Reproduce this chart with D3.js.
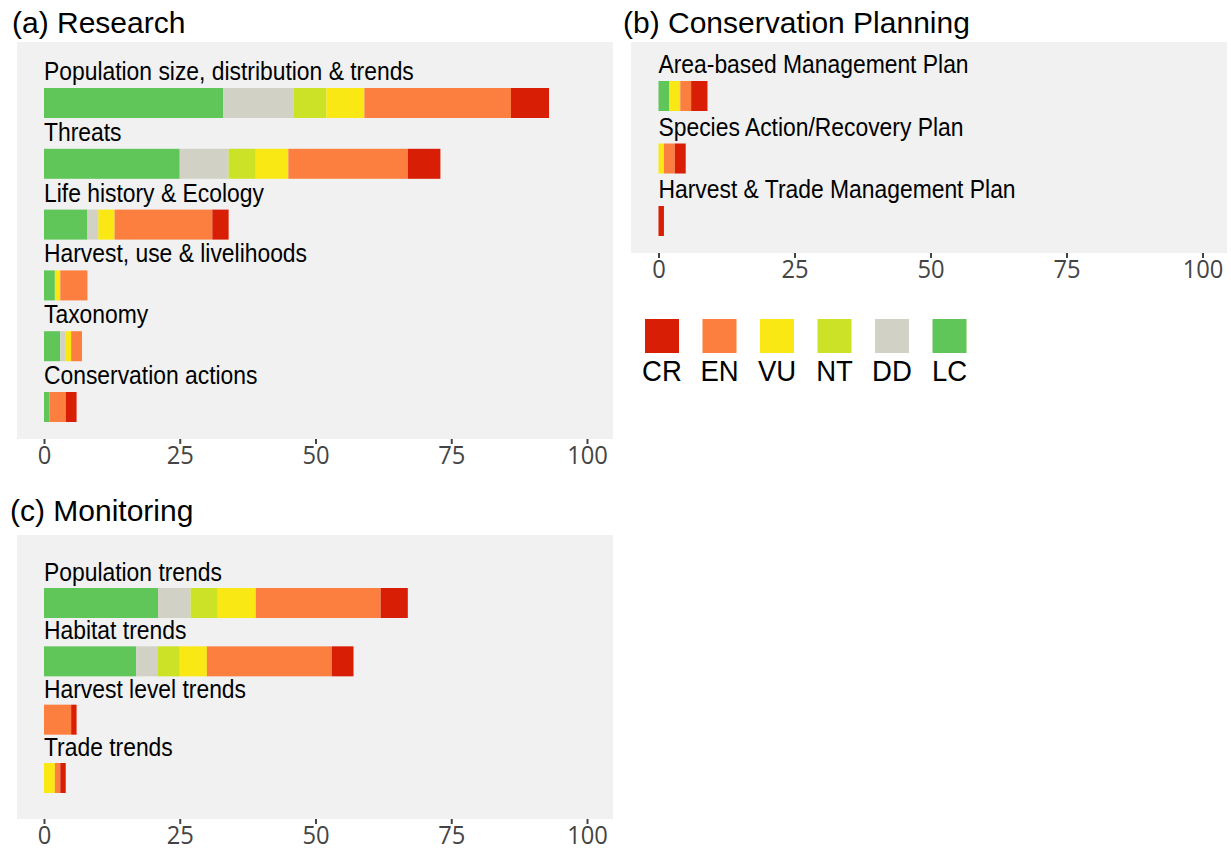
<!DOCTYPE html>
<html>
<head>
<meta charset="utf-8">
<script src="https://cdn.jsdelivr.net/npm/d3@7/dist/d3.min.js"></script>
<style>
  html, body { margin: 0; padding: 0; background: #ffffff; }
  svg { display: block; }
</style>
</head>
<body>
<svg id="chart" width="1231" height="852"></svg>
<script>
// ---------------- DATA ----------------
const statusKeys = ["LC", "DD", "NT", "VU", "EN", "CR"];
const legendKeys = ["CR", "EN", "VU", "NT", "DD", "LC"];
const statusColors = ["#60C659", "#D1D1C6", "#CCE226", "#F9E814", "#FC7F3F", "#D81E05"];
const tickValues = [0, 25, 50, 75, 100];

// (a) Research
const researchCategories = ["Population size, distribution & trends", "Threats", "Life history & Ecology",
                            "Harvest, use & livelihoods", "Taxonomy", "Conservation actions"];
const researchLC = [33, 25, 8, 2, 3, 1];
const researchDD = [13, 9, 2, 0, 1, 0];
const researchNT = [6, 5, 0, 0, 0, 0];
const researchVU = [7, 6, 3, 1, 1, 0];
const researchEN = [27, 22, 18, 5, 2, 3];
const researchCR = [7, 6, 3, 0, 0, 2];

// (b) Conservation Planning
const planningCategories = ["Area-based Management Plan", "Species Action/Recovery Plan", "Harvest & Trade Management Plan"];
const planningLC = [2, 0, 0];
const planningDD = [0, 0, 0];
const planningNT = [0, 0, 0];
const planningVU = [2, 1, 0];
const planningEN = [2, 2, 0];
const planningCR = [3, 2, 1];

// (c) Monitoring
const monitoringCategories = ["Population trends", "Habitat trends", "Harvest level trends", "Trade trends"];
const monitoringLC = [21, 17, 0, 0];
const monitoringDD = [6, 4, 0, 0];
const monitoringNT = [5, 4, 0, 0];
const monitoringVU = [7, 5, 0, 2];
const monitoringEN = [23, 23, 5, 1];
const monitoringCR = [5, 4, 1, 1];

// ---------------- BUILD ----------------
function rows(cats, LC, DD, NT, VU, EN, CR) {
  return cats.map((c, i) => ({ cat: c, LC: LC[i], DD: DD[i], NT: NT[i], VU: VU[i], EN: EN[i], CR: CR[i] }));
}

const panels = [
  { title: "(a) Research", titleX: 12, titleY: 33,
    rows: rows(researchCategories, researchLC, researchDD, researchNT, researchVU, researchEN, researchCR),
    bg: { x: 17, y: 42, w: 596, h: 397 }, xr: [44, 587], yr: [103, 407], labelOff: 23 },
  { title: "(b) Conservation Planning", titleX: 623, titleY: 33,
    rows: rows(planningCategories, planningLC, planningDD, planningNT, planningVU, planningEN, planningCR),
    bg: { x: 631, y: 42, w: 596, h: 211 }, xr: [658.5, 1202.5], yr: [96, 221], labelOff: 23 },
  { title: "(c) Monitoring", titleX: 10, titleY: 521,
    rows: rows(monitoringCategories, monitoringLC, monitoringDD, monitoringNT, monitoringVU, monitoringEN, monitoringCR),
    bg: { x: 17, y: 535, w: 596, h: 284 }, xr: [44, 587], yr: [603, 778], labelOff: 22 }
];

const svg = d3.select("#chart");
svg.append("rect").attr("width", 1231).attr("height", 852).attr("fill", "#ffffff");

const color = d3.scaleOrdinal().domain(statusKeys).range(statusColors);
const stack = d3.stack().keys(statusKeys);
const barH = 30;
const squeeze = 0.88;

panels.forEach(p => {
  const g = svg.append("g");
  g.append("rect").attr("x", p.bg.x).attr("y", p.bg.y).attr("width", p.bg.w).attr("height", p.bg.h)
    .attr("fill", "#F1F1F1");

  const x = d3.scaleLinear().domain([0, 100]).range(p.xr);
  const y = d3.scalePoint().domain(p.rows.map(d => d.cat)).range(p.yr);

  const series = stack(p.rows);
  g.selectAll("g.series").data(series).join("g").attr("class", "series")
    .attr("fill", d => color(d.key))
    .selectAll("rect").data(d => d.filter(s => s[1] > s[0])).join("rect")
    .attr("x", d => x(d[0]))
    .attr("y", d => y(d.data.cat) - barH / 2)
    .attr("width", d => x(d[1]) - x(d[0]))
    .attr("height", barH);

  g.selectAll("text.cat").data(p.rows).join("text").attr("class", "cat")
    .attr("transform", d => `translate(${x(0)},${y(d.cat) - p.labelOff}) scale(${squeeze},1)`)
    .attr("font-family", "'Liberation Sans', Arial, sans-serif")
    .attr("font-size", 26)
    .attr("fill", "#000")
    .text(d => d.cat);

  const axisY = p.bg.y + p.bg.h;
  const axis = d3.axisBottom(x).tickValues(tickValues).tickSize(5).tickPadding(2).tickFormat(d3.format("d"));
  const ag = g.append("g").attr("transform", `translate(0,${axisY})`).call(axis);
  ag.select(".domain").remove();
  ag.selectAll(".tick line").attr("stroke", "#444").attr("stroke-width", 2);
  ag.selectAll(".tick text").attr("fill", "#444")
    .attr("font-family", "'Open Sans', sans-serif").attr("font-size", 25)
    .attr("transform", "scale(0.95,1)");

  svg.append("text").attr("x", p.titleX).attr("y", p.titleY)
    .attr("font-family", "'Liberation Sans', Arial, sans-serif")
    .attr("font-size", 30).attr("fill", "#000").text(p.title);
});

// Legend
const legend = svg.append("g");
const lx = d3.scalePoint().domain(legendKeys).range([662, 949.5]);
legend.selectAll("rect").data(legendKeys).join("rect")
  .attr("x", d => lx(d) - 17).attr("y", 319).attr("width", 34).attr("height", 34)
  .attr("fill", d => color(d));
legend.selectAll("text").data(legendKeys).join("text")
  .attr("transform", d => `translate(${lx(d)},381) scale(0.95,1)`)
  .attr("text-anchor", "middle")
  .attr("font-family", "'Liberation Sans', Arial, sans-serif").attr("font-size", 29)
  .attr("fill", "#000").text(d => d);
</script>
</body>
</html>
